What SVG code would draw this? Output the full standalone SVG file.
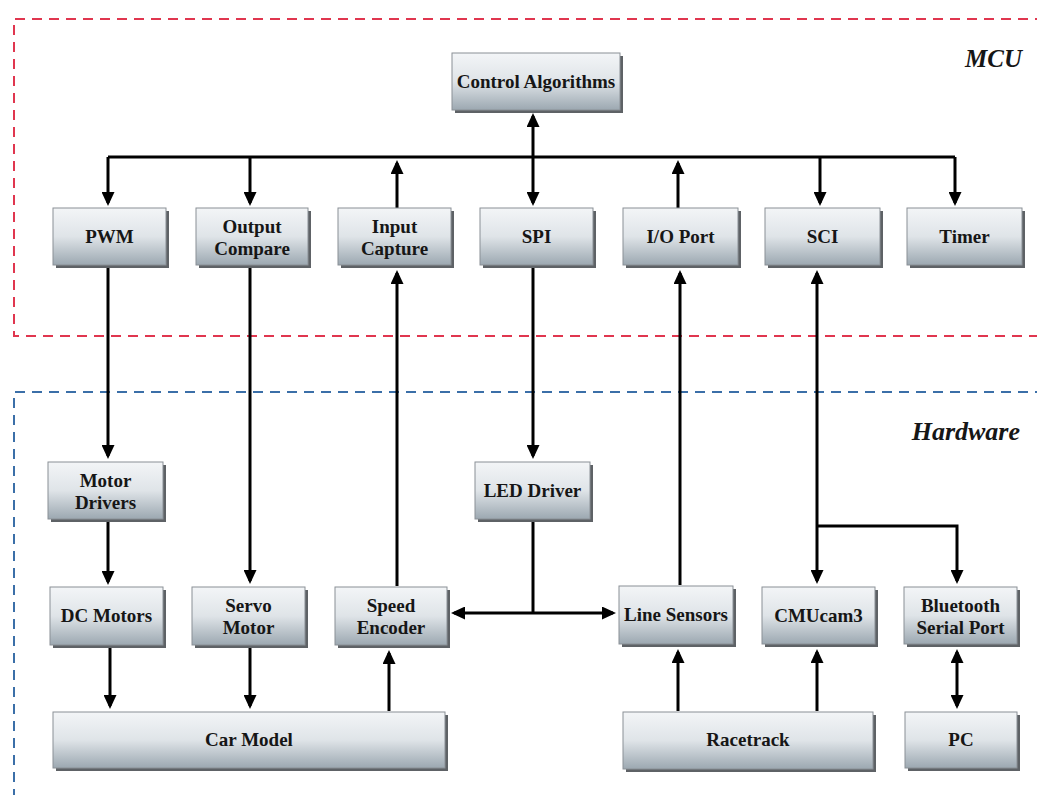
<svg xmlns="http://www.w3.org/2000/svg" width="1037" height="795" viewBox="0 0 1037 795">
<style>
.sh{fill:#5e6266}
.bx{fill:url(#g);stroke:#8a9096;stroke-width:1}
.t{font-family:"Liberation Serif","Times New Roman",serif;font-weight:bold;font-size:19px;fill:#161616;text-anchor:middle}
.lbl{font-family:"Liberation Serif","Times New Roman",serif;font-weight:bold;font-style:italic;fill:#161616;text-anchor:end}
.c{fill:none;stroke:#000;stroke-width:3}
.a{marker-end:url(#ah)}
.b{marker-start:url(#ah);marker-end:url(#ah)}
</style>
<defs>
<linearGradient id="g" x1="0" y1="0" x2="0" y2="1">
<stop offset="0" stop-color="#f3f5f7"/>
<stop offset="0.5" stop-color="#dfe4e8"/>
<stop offset="1" stop-color="#9ca8b1"/>
</linearGradient>
<marker id="ah" markerUnits="userSpaceOnUse" viewBox="0 0 14 13" markerWidth="14" markerHeight="13" refX="11" refY="6.5" orient="auto-start-reverse">
<path d="M0,0 L14,6.5 L0,13 z" fill="#000"/>
</marker>
</defs>
<rect width="1037" height="795" fill="#fff"/>
<g id="regions">
<path d="M1045,19 H14 V336 H1045" fill="none" stroke="#e0364f" stroke-width="2" stroke-dasharray="10 7"/>
<path d="M1045,392 H14 V800" fill="none" stroke="#3b6fa8" stroke-width="2" stroke-dasharray="10 7"/>
<text class="lbl" x="1022" y="67" font-size="25">MCU</text>
<text class="lbl" x="1020" y="440" font-size="26">Hardware</text>
</g>
<g id="connectors">
<path class="c" d="M108,157 H955"/>
<path class="c b" d="M533,116 V203"/>
<path class="c a" d="M108,157 V203"/>
<path class="c a" d="M250,157 V203"/>
<path class="c a" d="M820,157 V203"/>
<path class="c a" d="M955,157 V203"/>
<path class="c a" d="M397,208 V163"/>
<path class="c a" d="M678,208 V163"/>
<path class="c a" d="M108,266 V456"/>
<path class="c a" d="M108,522 V582"/>
<path class="c a" d="M110,648 V706"/>
<path class="c a" d="M250,268 V581"/>
<path class="c a" d="M250,648 V706"/>
<path class="c a" d="M397,586 V273"/>
<path class="c a" d="M389,711 V653"/>
<path class="c a" d="M533,268 V456"/>
<path class="c" d="M533,522 V613"/>
<path class="c b" d="M454,613 H613"/>
<path class="c a" d="M680,585 V273"/>
<path class="c a" d="M678,711 V652"/>
<path class="c b" d="M817,273 V581"/>
<path class="c a" d="M817,526 H957 V581"/>
<path class="c a" d="M817,711 V652"/>
<path class="c b" d="M957,652 V706"/>
</g>
<g id="control-algorithms"><rect class="sh" x="455" y="56" width="168" height="57"/><rect class="bx" x="452" y="53" width="168" height="57"/><text class="t" x="536" y="88">Control Algorithms</text></g>
<g id="pwm"><rect class="sh" x="56" y="211" width="113" height="57"/><rect class="bx" x="53" y="208" width="113" height="57"/><text class="t" x="109.5" y="243">PWM</text></g>
<g id="output-compare"><rect class="sh" x="199" y="211" width="112" height="57"/><rect class="bx" x="196" y="208" width="112" height="57"/><text class="t" x="252" y="233">Output</text><text class="t" x="252" y="255">Compare</text></g>
<g id="input-capture"><rect class="sh" x="341" y="211" width="113" height="57"/><rect class="bx" x="338" y="208" width="113" height="57"/><text class="t" x="394.5" y="233">Input</text><text class="t" x="394.5" y="255">Capture</text></g>
<g id="spi"><rect class="sh" x="483" y="211" width="113" height="57"/><rect class="bx" x="480" y="208" width="113" height="57"/><text class="t" x="536.5" y="243">SPI</text></g>
<g id="io-port"><rect class="sh" x="626" y="211" width="115" height="57"/><rect class="bx" x="623" y="208" width="115" height="57"/><text class="t" x="680.5" y="243">I/O Port</text></g>
<g id="sci"><rect class="sh" x="768" y="211" width="115" height="57"/><rect class="bx" x="765" y="208" width="115" height="57"/><text class="t" x="822.5" y="243">SCI</text></g>
<g id="timer"><rect class="sh" x="910" y="211" width="115" height="57"/><rect class="bx" x="907" y="208" width="115" height="57"/><text class="t" x="964.5" y="243">Timer</text></g>
<g id="motor-drivers"><rect class="sh" x="51" y="465" width="115" height="57"/><rect class="bx" x="48" y="462" width="115" height="57"/><text class="t" x="105.5" y="487">Motor</text><text class="t" x="105.5" y="509">Drivers</text></g>
<g id="led-driver"><rect class="sh" x="478" y="465" width="115" height="57"/><rect class="bx" x="475" y="462" width="115" height="57"/><text class="t" x="532.5" y="497">LED Driver</text></g>
<g id="dc-motors"><rect class="sh" x="53" y="590" width="113" height="58"/><rect class="bx" x="50" y="587" width="113" height="58"/><text class="t" x="106.5" y="622">DC Motors</text></g>
<g id="servo-motor"><rect class="sh" x="195" y="590" width="113" height="58"/><rect class="bx" x="192" y="587" width="113" height="58"/><text class="t" x="248.5" y="612">Servo</text><text class="t" x="248.5" y="634">Motor</text></g>
<g id="speed-encoder"><rect class="sh" x="338" y="590" width="112" height="58"/><rect class="bx" x="335" y="587" width="112" height="58"/><text class="t" x="391" y="612">Speed</text><text class="t" x="391" y="634">Encoder</text></g>
<g id="line-sensors"><rect class="sh" x="622" y="589" width="114" height="58"/><rect class="bx" x="619" y="586" width="114" height="58"/><text class="t" x="676" y="621">Line Sensors</text></g>
<g id="cmucam3"><rect class="sh" x="765" y="590" width="113" height="57"/><rect class="bx" x="762" y="587" width="113" height="57"/><text class="t" x="818.5" y="622">CMUcam3</text></g>
<g id="bluetooth"><rect class="sh" x="907" y="590" width="113" height="57"/><rect class="bx" x="904" y="587" width="113" height="57"/><text class="t" x="960.5" y="612">Bluetooth</text><text class="t" x="960.5" y="634">Serial Port</text></g>
<g id="car-model"><rect class="sh" x="56" y="715" width="392" height="56"/><rect class="bx" x="53" y="712" width="392" height="56"/><text class="t" x="249" y="746">Car Model</text></g>
<g id="racetrack"><rect class="sh" x="626" y="715" width="250" height="57"/><rect class="bx" x="623" y="712" width="250" height="57"/><text class="t" x="748" y="746">Racetrack</text></g>
<g id="pc"><rect class="sh" x="908" y="715" width="112" height="56"/><rect class="bx" x="905" y="712" width="112" height="56"/><text class="t" x="961" y="746">PC</text></g>
</svg>
